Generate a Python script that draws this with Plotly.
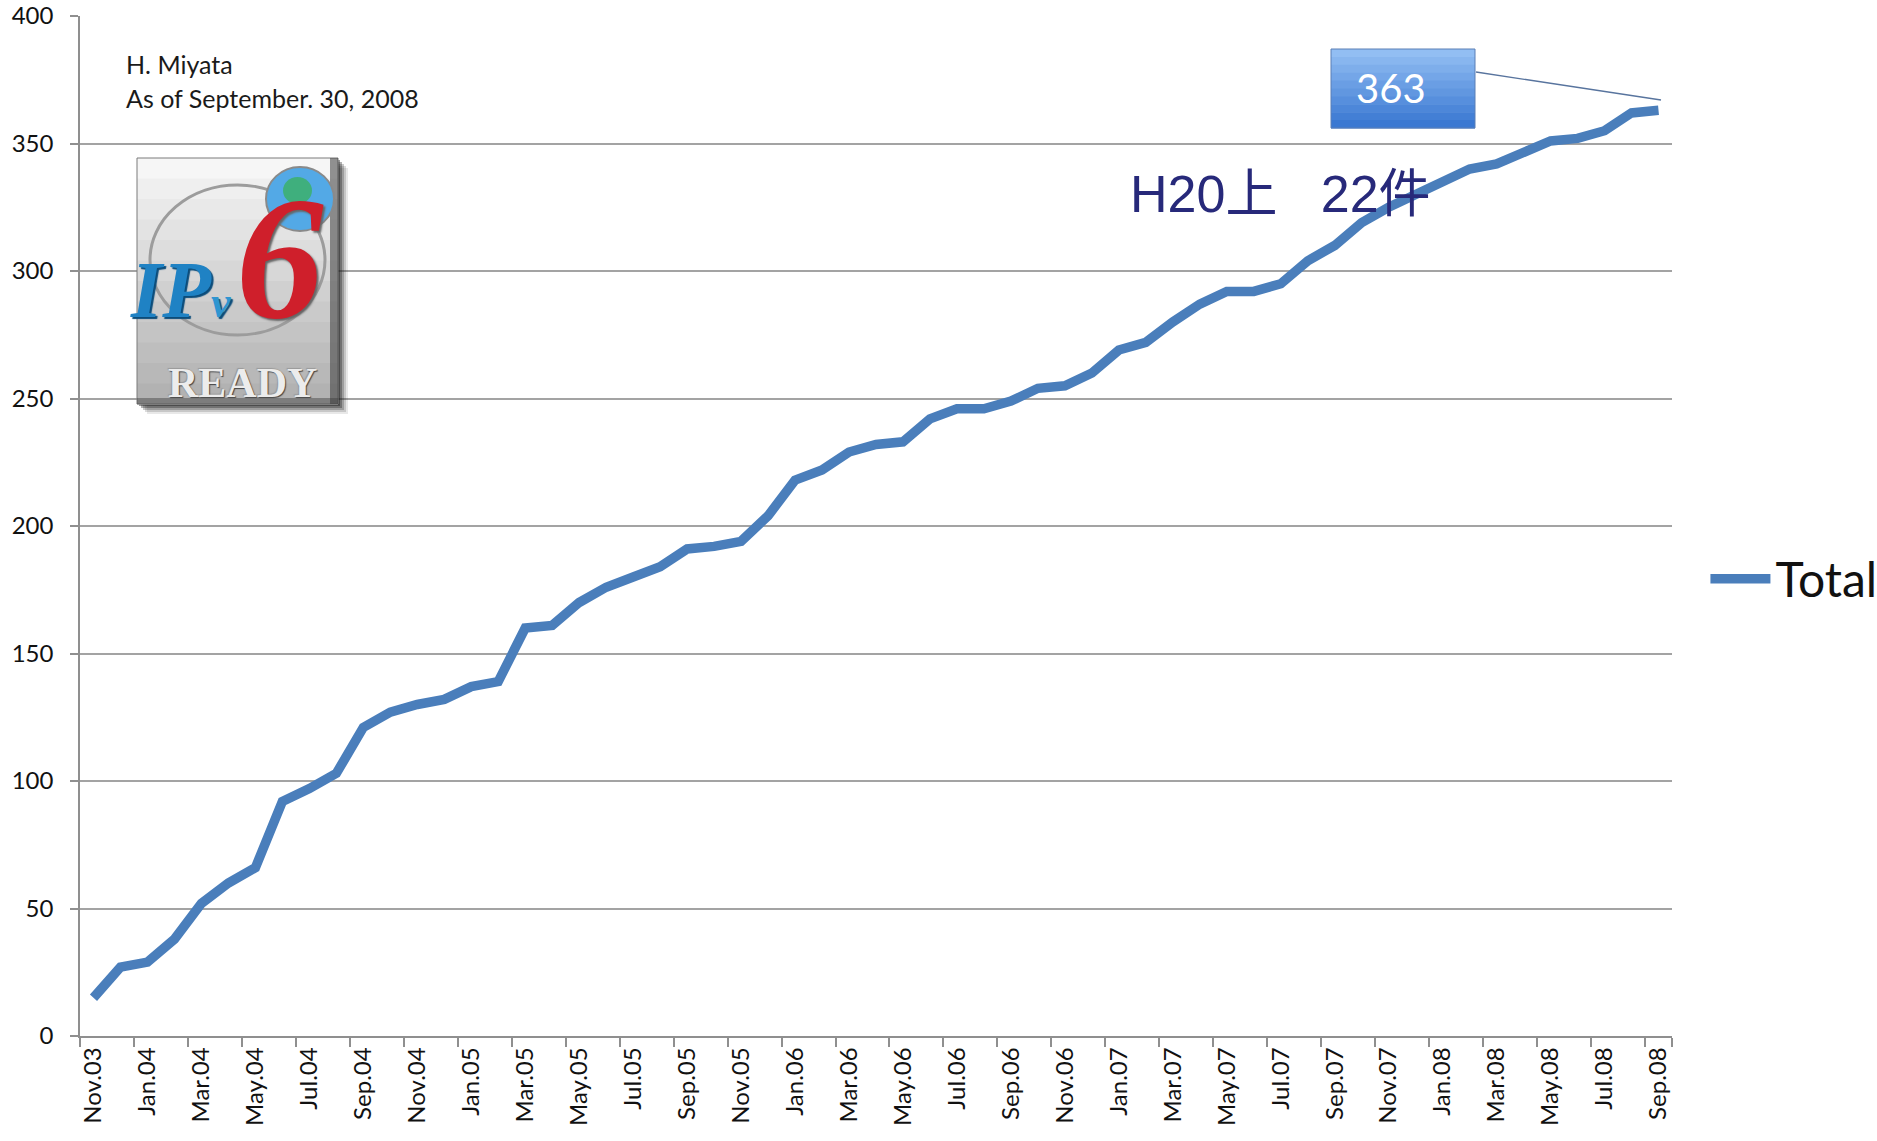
import plotly.graph_objects as go

months = [
    "Nov.03", "Dec.03",
    "Jan.04", "Feb.04", "Mar.04", "Apr.04", "May.04", "Jun.04", "Jul.04", "Aug.04", "Sep.04", "Oct.04", "Nov.04", "Dec.04",
    "Jan.05", "Feb.05", "Mar.05", "Apr.05", "May.05", "Jun.05", "Jul.05", "Aug.05", "Sep.05", "Oct.05", "Nov.05", "Dec.05",
    "Jan.06", "Feb.06", "Mar.06", "Apr.06", "May.06", "Jun.06", "Jul.06", "Aug.06", "Sep.06", "Oct.06", "Nov.06", "Dec.06",
    "Jan.07", "Feb.07", "Mar.07", "Apr.07", "May.07", "Jun.07", "Jul.07", "Aug.07", "Sep.07", "Oct.07", "Nov.07", "Dec.07",
    "Jan.08", "Feb.08", "Mar.08", "Apr.08", "May.08", "Jun.08", "Jul.08", "Aug.08", "Sep.08",
]
total = [
    15, 27,
    29, 38, 52, 60, 66, 92, 97, 103, 121, 127, 130, 132,
    137, 139, 160, 161, 170, 176, 180, 184, 191, 192, 194, 204,
    218, 222, 229, 232, 233, 242, 246, 246, 249, 254, 255, 260,
    269, 272, 280, 287, 292, 292, 295, 304, 310, 319, 325, 330,
    336, 340, 342, 347, 351, 352, 355, 362, 363,
]
y_ticks = [0, 50, 100, 150, 200, 250, 300, 350, 400]
series_name = "Total"
note_lines = ["H. Miyata", "As of September. 30, 2008"]
half_year_label = "H20上   22件"
last_label = str(total[-1])

W, H = 1877, 1141
L, R, T, B = 80, 205, 16, 105
PW, PH = W - L - R, H - T - B


def px(x):
    return (x - L) / PW


def py(y):
    return 1 - (y - T) / PH


def prect(x0, y0, x1, y1, **kw):
    d = dict(type="rect", xref="paper", yref="paper",
             x0=px(x0), x1=px(x1), y0=py(y1), y1=py(y0), layer="above")
    d.update(kw)
    return d


def ptext(x, y, text, **kw):
    d = dict(xref="paper", yref="paper", x=px(x), y=py(y), text=text,
             xanchor="center", yanchor="middle", showarrow=False)
    d.update(kw)
    return d


def blend(c0, c1, t):
    return "rgb(%d,%d,%d)" % tuple(int(c0[j] + (c1[j] - c0[j]) * t) for j in range(3))


FONT = "Lato, 'Open Sans', sans-serif"
GRID = "#a3a3a3"
AX = "#8f8f8f"
idx = list(range(len(months)))

fig = go.Figure()
fig.add_trace(go.Scatter(
    x=idx, y=total, mode="lines", name=series_name,
    line=dict(color="#4A7EBB", width=9.5),
    hoverinfo="x+y",
))

shapes = []
annotations = []

# ---- IPv6 Ready logo (approximation drawn with shapes and text) ----
bx0, by0, bx1, by1 = 137, 158, 338, 404
for off, alpha in [(10, 0.10), (8, 0.16), (6, 0.24), (4, 0.34), (2, 0.45)]:
    shapes.append(prect(bx0 + off, by0 + off, bx1 + off, by1 + off,
                        fillcolor=f"rgba(30,30,30,{alpha})", line=dict(width=0)))
nb = 12
for k in range(nb):
    ya = by0 + (by1 - by0) * k / nb
    yb = by0 + (by1 - by0) * (k + 1) / nb
    shapes.append(prect(bx0, ya, bx1, yb + 0.5, fillcolor=blend((246, 246, 246), (178, 178, 178), k / (nb - 1)),
                        line=dict(width=0)))
shapes.append(prect(bx0, by0, bx1, by1, fillcolor="rgba(0,0,0,0)", line=dict(color="#7a7a7a", width=1)))
shapes.append(prect(bx1 - 8, by0, bx1, by1, fillcolor="rgba(60,60,60,0.55)", line=dict(width=0)))
shapes.append(prect(bx0, by1 - 6, bx1, by1, fillcolor="rgba(60,60,60,0.45)", line=dict(width=0)))
shapes.append(dict(type="circle", xref="paper", yref="paper",
                   x0=px(150), x1=px(325), y0=py(335), y1=py(185),
                   fillcolor="rgba(0,0,0,0)", line=dict(color="#9c9c9c", width=3), layer="above"))
shapes.append(dict(type="circle", xref="paper", yref="paper",
                   x0=px(266), x1=px(334), y0=py(231), y1=py(167),
                   fillcolor="#53a9e6", line=dict(color="#8a8a8a", width=2), layer="above"))
shapes.append(dict(type="circle", xref="paper", yref="paper",
                   x0=px(283), x1=px(312), y0=py(204), y1=py(177),
                   fillcolor="#38b25a", line=dict(width=0), opacity=0.75, layer="above"))
annotations.append(ptext(180, 290,
                         "<b><i>IP<span style='font-size:44px;fill:#2f95d0'>v</span></i></b>",
                         font=dict(family="Liberation Serif", size=80, color="#1f82c4",
                                   shadow="2px 2px 1px #0b4c7a")))
annotations.append(ptext(280, 258, "<b><i>6</i></b>",
                         font=dict(family="Liberation Serif", size=175, color="#cf1f2b",
                                   shadow="2px 2px 2px #666")))
annotations.append(ptext(242, 383, "<b>READY</b>",
                         font=dict(family="Liberation Serif", size=42, color="#ececec",
                                   shadow="1px 1px 1px #444, -1px -1px 1px #999")))

# ---- text notes ----
annotations.append(ptext(124, 64, note_lines[0], xanchor="left",
                         font=dict(family=FONT, size=25, color="#1a1a1a")))
annotations.append(ptext(124, 98, note_lines[1], xanchor="left",
                         font=dict(family=FONT, size=25, color="#1a1a1a")))
annotations.append(ptext(1128, 194, half_year_label, xanchor="left",
                         font=dict(family="'Liberation Sans', 'Noto Sans CJK JP', sans-serif", size=52,
                                   color="#27297a")))

# ---- callout for the last value (box anchored to the last data point, offsets in pixels) ----
last_x, last_y = idx[-1], total[-1]
pt_px = L + (last_x + 0.5) / len(months) * PW
pt_py = T + (1 - last_y / 400) * PH
box_l, box_r, box_t, box_b = 1331, 1475, 49, 128
nb = 10
for k in range(nb):
    ta = box_t + (box_b - box_t) * k / nb
    tb = box_t + (box_b - box_t) * (k + 1) / nb
    shapes.append(dict(type="rect", xref="x", yref="y", xsizemode="pixel", ysizemode="pixel",
                       xanchor=last_x, yanchor=last_y,
                       x0=box_l - pt_px, x1=box_r - pt_px,
                       y0=pt_py - (tb + 0.5), y1=pt_py - ta,
                       fillcolor=blend((146, 190, 243), (58, 120, 210), k / (nb - 1)),
                       line=dict(width=0), layer="above"))
shapes.append(dict(type="rect", xref="x", yref="y", xsizemode="pixel", ysizemode="pixel",
                   xanchor=last_x, yanchor=last_y,
                   x0=box_l - pt_px, x1=box_r - pt_px, y0=pt_py - box_b, y1=pt_py - box_t,
                   fillcolor="rgba(0,0,0,0)", line=dict(color="#5a7fb5", width=1), layer="above"))
shapes.append(dict(type="line", xref="x", yref="y", xsizemode="pixel", ysizemode="pixel",
                   xanchor=last_x, yanchor=last_y,
                   x0=box_r + 1 - pt_px, x1=1661 - pt_px, y0=pt_py - 72, y1=pt_py - 100,
                   line=dict(color="#58749e", width=1.3), layer="above"))
annotations.append(dict(x=last_x, y=last_y, xref="x", yref="y", text=last_label,
                        showarrow=False, xanchor="center", yanchor="middle",
                        xshift=(box_l + box_r) / 2 - pt_px - 12, yshift=pt_py - (box_t + box_b) / 2,
                        font=dict(family=FONT, size=40, color="white")))

fig.update_layout(
    width=W, height=H, autosize=False,
    margin=dict(l=L, r=R, t=T, b=B, autoexpand=False),
    paper_bgcolor="white", plot_bgcolor="white",
    font=dict(family=FONT, size=24, color="#111111"),
    showlegend=True,
    legend=dict(x=1.021, y=py(579), xanchor="left", yanchor="middle",
                font=dict(family=FONT, size=48, color="#111111"),
                itemwidth=60, bgcolor="rgba(0,0,0,0)"),
    shapes=shapes,
    annotations=annotations,
    xaxis=dict(
        range=[-0.5, len(months) - 0.5], automargin=False,
        tickmode="array", tickvals=idx[::2], ticktext=months[::2],
        tickangle=-90, ticks="", showgrid=False,
        showline=True, linecolor=AX, linewidth=1.5,
        zeroline=False,
        tickfont=dict(family=FONT, size=24, color="#111111"),
        minor=dict(tickmode="array", tickvals=[i - 0.5 for i in idx[::2]] + [len(months) - 0.5],
                   ticks="outside", ticklen=9, tickcolor=AX, tickwidth=1.5, showgrid=False),
    ),
    yaxis=dict(
        range=[0, 400], automargin=False, tickmode="array", tickvals=y_ticks,
        ticks="outside", ticklen=8, tickcolor=AX, tickwidth=1.5,
        ticklabelstandoff=12,
        showgrid=True, gridcolor=GRID, gridwidth=1.5,
        showline=True, linecolor=AX, linewidth=1.5,
        zeroline=False,
        tickfont=dict(family=FONT, size=24, color="#111111"),
    ),
)

fig.write_html("out.html", config={"displayModeBar": False},
               post_script="document.body.style.margin='0';")
